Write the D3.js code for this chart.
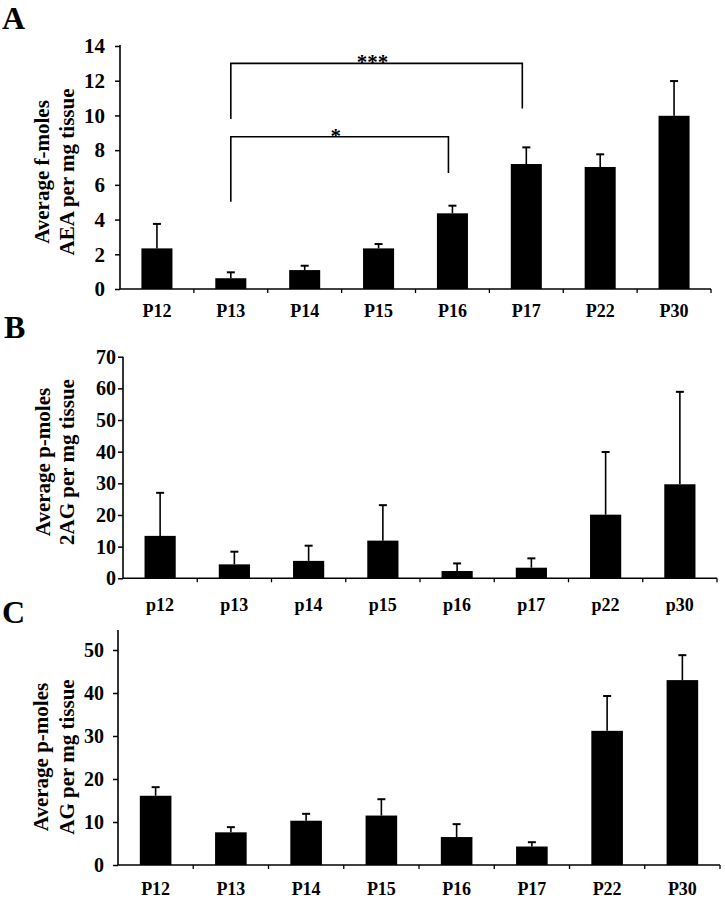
<!DOCTYPE html>
<html>
<head>
<meta charset="utf-8">
<script src="https://cdn.jsdelivr.net/npm/d3@7"></script>
<style>
  html, body { margin: 0; padding: 0; background: #fff; }
  svg { display: block; }
  text { font-family: "Liberation Serif", "Times New Roman", serif; font-weight: bold; fill: #000; }
</style>
</head>
<body>
<svg id="chart" width="725" height="899"></svg>
<script>
// ---------- DATA ----------
const categoriesA = ["P12", "P13", "P14", "P15", "P16", "P17", "P22", "P30"];
const aeaMeans    = [2.34, 0.62, 1.09, 2.34, 4.36, 7.2, 7.03, 9.98];
const aeaErrors   = [1.41, 0.34, 0.25, 0.25, 0.44, 0.96, 0.73, 2.0];
const aeaTicks    = [0, 2, 4, 6, 8, 10, 12, 14];

const categoriesB   = ["p12", "p13", "p14", "p15", "p16", "p17", "p22", "p30"];
const twoAgMeans    = [13.4, 4.4, 5.5, 11.9, 2.3, 3.35, 20.1, 29.7];
const twoAgErrors   = [13.6, 4.0, 4.8, 11.2, 2.4, 2.95, 19.8, 29.2];
const twoAgTicks    = [0, 10, 20, 30, 40, 50, 60, 70];

const categoriesC = ["P12", "P13", "P14", "P15", "P16", "P17", "P22", "P30"];
const agMeans     = [16.1, 7.6, 10.3, 11.5, 6.5, 4.3, 31.2, 43.0];
const agErrors    = [2.0, 1.2, 1.6, 3.8, 3.0, 1.0, 8.1, 5.8];
const agTicks     = [0, 10, 20, 30, 40, 50];

const bracketFrom   = ["P13", "P13"];
const bracketTo     = ["P17", "P16"];
const bracketTop    = [13.0, 8.77];
const bracketLeftEnd  = [9.8, 5.03];
const bracketRightEnd = [10.4, 6.68];
const bracketLabels = ["***", "*"];

// ---------- DRAW ----------
const svg = d3.select("#chart");

function panel(cfg) {
  const g = svg.append("g");
  const x = d3.scaleBand().domain(cfg.cats).range([cfg.x0, cfg.x1]).paddingInner(0).paddingOuter(0);
  const y = d3.scaleLinear().domain([0, cfg.yMax]).range([cfg.yBase, cfg.yTopPx]);
  const barW = x.bandwidth() * 0.42;
  const data = cfg.cats.map((c, i) => ({ c, v: cfg.means[i], e: cfg.errs[i] }));

  // error bars
  g.selectAll("line.err").data(data).enter().append("line")
    .attr("x1", d => x(d.c) + x.bandwidth() / 2).attr("x2", d => x(d.c) + x.bandwidth() / 2)
    .attr("y1", d => y(d.v)).attr("y2", d => y(d.v + d.e))
    .attr("stroke", "#000").attr("stroke-width", 1.6);
  g.selectAll("line.cap").data(data).enter().append("line")
    .attr("x1", d => x(d.c) + x.bandwidth() / 2 - 4).attr("x2", d => x(d.c) + x.bandwidth() / 2 + 4)
    .attr("y1", d => y(d.v + d.e)).attr("y2", d => y(d.v + d.e))
    .attr("stroke", "#000").attr("stroke-width", 2);

  // bars
  g.selectAll("rect").data(data).enter().append("rect")
    .attr("x", d => x(d.c) + (x.bandwidth() - barW) / 2)
    .attr("y", d => y(d.v))
    .attr("width", barW)
    .attr("height", d => y(0) - y(d.v))
    .attr("fill", "#000");

  // y axis
  const yAxis = d3.axisLeft(y).tickValues(cfg.ticks).tickSize(5).tickSizeOuter(0).tickPadding(cfg.tickPad);
  const ya = g.append("g").attr("transform", `translate(${cfg.x0},0)`).call(yAxis);
  ya.select(".domain").remove();
  ya.selectAll(".tick line").attr("stroke", "#000").attr("stroke-width", 1.5);
  ya.selectAll(".tick text").attr("font-size", cfg.tickFont).attr("font-family", "Liberation Serif").attr("font-weight", "bold").attr("fill", "#000");
  g.append("line").attr("x1", cfg.x0).attr("x2", cfg.x0)
    .attr("y1", y(0)).attr("y2", cfg.axisTopPx)
    .attr("stroke", "#000").attr("stroke-width", 1.6);

  // x axis
  g.append("line").attr("x1", cfg.x0).attr("x2", cfg.x1)
    .attr("y1", y(0)).attr("y2", y(0)).attr("stroke", "#000").attr("stroke-width", 1.6);
  g.selectAll("line.xt").data(cfg.cats).enter().append("line")
    .attr("x1", d => x(d) + x.bandwidth()).attr("x2", d => x(d) + x.bandwidth())
    .attr("y1", y(0)).attr("y2", y(0) + 4)
    .attr("stroke", "#000").attr("stroke-width", 1.3);
  g.selectAll("text.xl").data(cfg.cats).enter().append("text")
    .attr("x", d => x(d) + x.bandwidth() / 2)
    .attr("y", cfg.labelY)
    .attr("text-anchor", "middle")
    .attr("font-size", 18)
    .text(d => d);

  // y title (two lines)
  cfg.title.forEach((t, i) => {
    g.append("text")
      .attr("transform", `translate(${cfg.titleX[i]},${cfg.titleY}) rotate(-90)`)
      .attr("text-anchor", "middle")
      .attr("dominant-baseline", "central")
      .attr("font-size", 21)
      .text(t);
  });

  // panel letter
  g.append("text").attr("x", cfg.letterX).attr("y", cfg.letterY)
    .attr("font-size", 32).text(cfg.letter);

  return { x, y };
}

const A = panel({
  cats: categoriesA, means: aeaMeans, errs: aeaErrors, ticks: aeaTicks,
  x0: 120, x1: 711, yBase: 289, yTopPx: 46, yMax: 14, axisTopPx: 45,
  tickPad: 10, tickFont: 21, labelY: 317,
  title: ["Average f-moles", "AEA per mg tissue"], titleX: [42, 67], titleY: 172,
  letter: "A", letterX: 2, letterY: 29
});

panel({
  cats: categoriesB, means: twoAgMeans, errs: twoAgErrors, ticks: twoAgTicks,
  x0: 123, x1: 717, yBase: 578.3, yTopPx: 356.7, yMax: 70, axisTopPx: 356.7,
  tickPad: 2, tickFont: 20, labelY: 611,
  title: ["Average p-moles", "2AG per mg tissue"], titleX: [43, 67], titleY: 462,
  letter: "B", letterX: 4, letterY: 338
});

const cScaleTop = 650;
panel({
  cats: categoriesC, means: agMeans, errs: agErrors, ticks: agTicks,
  x0: 118, x1: 720, yBase: 865, yTopPx: cScaleTop, yMax: 50, axisTopPx: 630,
  tickPad: 9, tickFont: 20, labelY: 895,
  title: ["Average p-moles", "AG per mg tissue"], titleX: [41, 67], titleY: 757,
  letter: "C", letterX: 2, letterY: 623
});

// significance brackets on panel A
const bg = svg.append("g");
bracketLabels.forEach((lab, i) => {
  const xa = A.x(bracketFrom[i]) + A.x.bandwidth() / 2;
  const xb = A.x(bracketTo[i]) + A.x.bandwidth() / 2 - 4;
  const path = d3.path();
  path.moveTo(xa, A.y(bracketLeftEnd[i]));
  path.lineTo(xa, A.y(bracketTop[i]));
  path.lineTo(xb, A.y(bracketTop[i]));
  path.lineTo(xb, A.y(bracketRightEnd[i]));
  bg.append("path").attr("d", path.toString()).attr("fill", "none")
    .attr("stroke", "#000").attr("stroke-width", 1.6);
  bg.append("text").attr("x", (xa + xb) / 2 - 4).attr("y", A.y(bracketTop[i]) + 6)
    .attr("text-anchor", "middle").attr("font-size", 21).text(lab);
});
</script>
</body>
</html>
